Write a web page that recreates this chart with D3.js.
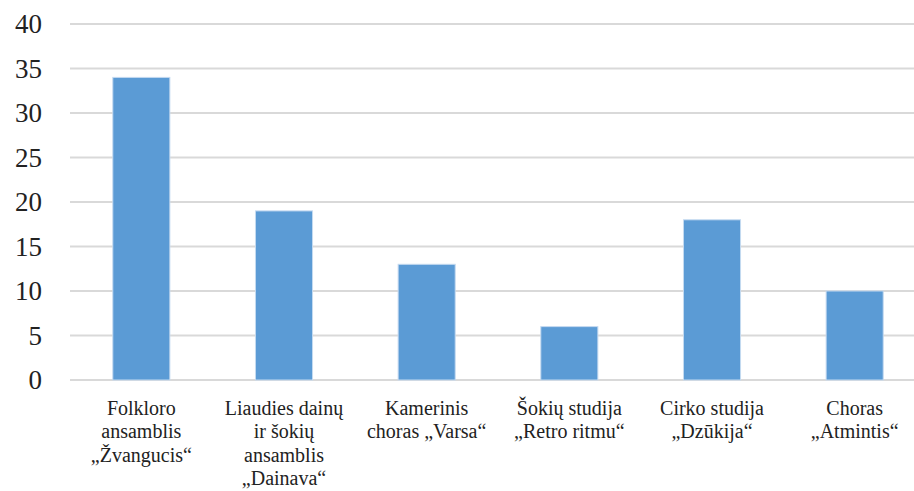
<!DOCTYPE html>
<html lang="lt">
<head>
<meta charset="UTF-8">
<title>Kolektyvai</title>
<style>
  body { margin: 0; background: #fff; }
</style>
</head>
<body>
<script src="https://d3js.org/d3.v7.min.js"></script>
<script>
    // duomenys
    var categories = ["Folkloro ansamblis", "Liaudies dainų ansamblis", "Kamerinis choras", "Šokių studija", "Cirko studija", "Choras"];
    var labelLines = [
        ["Folkloro", "ansamblis", "„Žvangucis“"],
        ["Liaudies dainų", "ir šokių", "ansamblis", "„Dainava“"],
        ["Kamerinis", "choras „Varsa“"],
        ["Šokių studija", "„Retro ritmu“"],
        ["Cirko studija", "„Dzūkija“"],
        ["Choras", "„Atmintis“"]
    ];
    var values = [34, 19, 13, 6, 18, 10];
    var yTicks = [0, 5, 10, 15, 20, 25, 30, 35, 40];

    var width = 914,
        height = 491;

    var svg = d3.select("body")
        .append("svg")
        .attr("width", width)
        .attr("height", height)
        .attr("font-family", "'Liberation Serif', 'Times New Roman', Tinos, 'DejaVu Serif', serif")
        .style("font-family", "'Liberation Serif', 'Times New Roman', Tinos, 'DejaVu Serif', serif");

    var x = d3.scaleBand().domain(categories).range([70, 926]).paddingInner(0.6).paddingOuter(0.3);
    var y = d3.scaleLinear().domain([0, 40]).range([380, 24]);

    // gridlines
    svg.append("g").selectAll("line").data(yTicks)
        .enter().append("line")
        .attr("x1", 70).attr("x2", width)
        .attr("y1", function(d){ return y(d); }).attr("y2", function(d){ return y(d); })
        .attr("stroke", "#d9d9d9").attr("stroke-width", 2);

    // y labels
    svg.append("g").selectAll("text").data(yTicks)
        .enter().append("text")
        .attr("x", 42).attr("y", function(d){ return y(d); })
        .attr("dy", "0.35em")
        .attr("text-anchor", "end")
        .attr("font-size", 27)
        .attr("fill", "#222")
        .text(function(d){ return d; });

    // bars
    svg.append("g").selectAll("rect").data(values)
        .enter().append("rect")
        .attr("x", function(d, i){ return x(categories[i]); })
        .attr("y", function(d){ return y(d); })
        .attr("width", x.bandwidth())
        .attr("height", function(d){ return y(0) - y(d); })
        .attr("fill", "#5b9bd5")
        .attr("stroke", "#c5daf0").attr("stroke-width", 1);

    // category labels
    var lab = svg.append("g").selectAll("text").data(labelLines)
        .enter().append("text")
        .attr("text-anchor", "middle")
        .attr("font-size", 20)
        .attr("fill", "#222")
        .attr("transform", function(d, i){ return "translate(" + (x(categories[i]) + x.bandwidth() / 2) + ",415)"; });
    lab.selectAll("tspan").data(function(d){ return d; })
        .enter().append("tspan")
        .attr("x", 0)
        .attr("y", function(d, j){ return j * 23.3; })
        .text(function(d){ return d; });
</script>
</body>
</html>
